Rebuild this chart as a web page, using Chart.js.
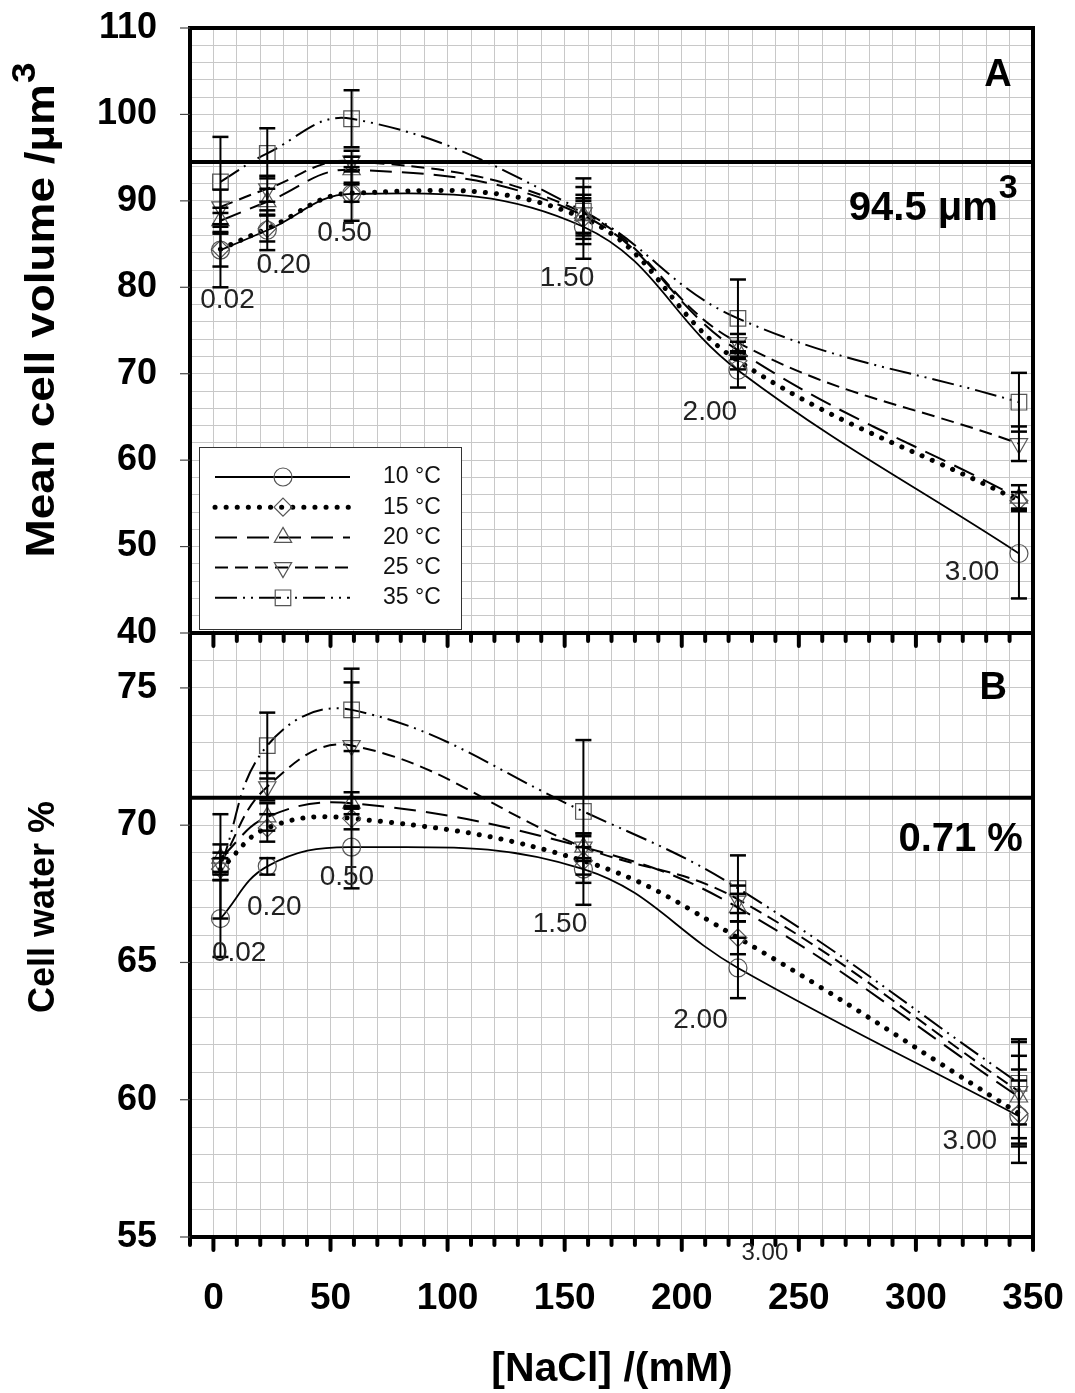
<!DOCTYPE html>
<html>
<head>
<meta charset="utf-8">
<title>Cell volume and cell water vs NaCl</title>
<script src="https://cdn.jsdelivr.net/npm/chart.js@4.4.1/dist/chart.umd.min.js"></script>
<style>
  html, body { margin: 0; padding: 0; background: #fff; }
  #page { position: relative; width: 1075px; height: 1393px; overflow: hidden; background: #fff; }
  #panelA { position: absolute; left: 0; top: 0; z-index: 2; }
  #panelB { position: absolute; left: 0; top: 611px; z-index: 1; }
</style>
</head>
<body>
<div id="page">
  <canvas id="panelA" width="1075" height="660"></canvas>
  <canvas id="panelB" width="1075" height="782"></canvas>
</div>
<script>
const FONT = "'Liberation Sans', Arial, Helvetica, sans-serif";

// ----- Data -----
const nacl = [3, 23, 59, 158, 224, 344];               // [NaCl] mM
const temps = ['10 °C', '15 °C', '20 °C', '25 °C', '35 °C'];
const concLabels = ['0.02', '0.20', '0.50', '1.50', '2.00', '3.00'];

// A: mean cell volume (µm³) per temperature, with ± error
const vol10 = [84.3, 86.6, 90.8, 87.0, 70.4, 49.2];
const vol15 = [84.4, 86.8, 90.9, 88.0, 71.5, 55.3];
const vol20 = [87.7, 89.9, 93.6, 88.3, 72.7, 55.6];
const vol25 = [89.3, 91.4, 94.6, 88.6, 73.6, 61.9];
const vol35 = [92.2, 95.5, 99.5, 88.8, 76.4, 66.7];
const volErr10 = [4.3, 2.3, 3.1, 3.7, 2.0, 5.2];
const volErr15 = [2.0, 1.5, 1.0, 2.0, 1.0, 1.0];
const volErr20 = [1.5, 1.5, 1.5, 2.0, 1.0, 1.5];
const volErr25 = [2.0, 1.5, 1.2, 3.0, 1.0, 2.0];
const volErr35 = [5.2, 2.9, 3.3, 3.8, 4.5, 3.4];

// B: cell water (%) per temperature, with ± error
const wat10 = [66.6, 68.5, 69.2, 68.4, 64.8, 59.4];
const wat15 = [68.4, 69.9, 70.25, 68.7, 65.9, 59.5];
const wat20 = [68.8, 70.3, 70.8, 69.2, 67.0, 60.1];
const wat25 = [68.6, 71.4, 72.9, 69.2, 67.3, 60.3];
const wat35 = [68.5, 72.9, 74.2, 70.5, 67.7, 60.6];
const watErr10 = [1.4, 0.3, 1.5, 1.3, 1.1, 1.7];
const watErr15 = [0.4, 0.5, 0.4, 0.5, 0.6, 1.2];
const watErr20 = [0.5, 0.5, 0.4, 0.4, 0.5, 1.5];
const watErr25 = [0.4, 0.5, 2.3, 0.5, 0.5, 1.9];
const watErr35 = [1.9, 1.2, 1.5, 2.6, 1.2, 1.5];

// tick labels
const volTickLabels = [40, 50, 60, 70, 80, 90, 100, 110];
const watTickLabels = [55, 60, 65, 70, 75];
const naclTickLabels = [0, 50, 100, 150, 200, 250, 300, 350];

// reference levels
const volRef = 94.5;
const watRef = 71;

// NaCl % labels next to the points (data units, text centre)
const volLabelX = [6, 30, 56, 151, 212, 324];
const volLabelY = [78.5, 82.5, 86.2, 81.0, 65.5, 47.0];
const watLabelX = [11, 26, 57, 148, 208, 323];
const watLabelY = [65.35, 67.0, 68.1, 66.4, 62.9, 58.5];

// ----- Styles -----
const seriesStyle = [
  { dash: [],                  width: 1.8, cap: 'butt',  point: 'circle',   r: 9,  rot: 0 },
  { dash: [0.1, 11],           width: 5,   cap: 'round', point: 'rectRot',  r: 9,  rot: 0 },
  { dash: [22, 10],            width: 2,   cap: 'butt',  point: 'triangle', r: 10, rot: 0 },
  { dash: [13, 7],             width: 2,   cap: 'butt',  point: 'triangle', r: 10, rot: 180 },
  { dash: [22, 6, 2, 6, 2, 6], width: 2,   cap: 'butt',  point: 'rect',     r: 11, rot: 0 }
];

function buildDatasets(series, errors) {
  return series.map((vals, i) => {
    const s = seriesStyle[i];
    return {
      label: temps[i],
      data: nacl.map((x, j) => ({ x, y: vals[j] })),
      errors: errors[i],
      borderColor: '#000',
      borderWidth: s.width,
      borderDash: s.dash,
      borderCapStyle: s.cap,
      tension: 0.4,
      fill: false,
      pointStyle: s.point,
      pointRadius: s.r,
      pointRotation: s.rot,
      pointBorderColor: '#555',
      pointBorderWidth: 1.2,
      pointBackgroundColor: 'rgba(0,0,0,0)'
    };
  });
}

function seg(ctx, x1, y1, x2, y2) {
  ctx.beginPath(); ctx.moveTo(x1, y1); ctx.lineTo(x2, y2); ctx.stroke();
}

function drawMarker(ctx, s, x, y) {
  ctx.save();
  ctx.setLineDash([]);
  ctx.strokeStyle = '#555';
  ctx.fillStyle = 'rgba(0,0,0,0)';
  ctx.lineWidth = 1.2;
  if (Chart.helpers && Chart.helpers.drawPoint) {
    Chart.helpers.drawPoint(ctx, { pointStyle: s.point, radius: s.r, rotation: s.rot, borderWidth: 1.2 }, x, y);
  }
  ctx.restore();
}

function panelPlugin(o) {
  return {
    id: 'panelExtras',
    afterDatasetsDraw(chart) {
      const ctx = chart.ctx, xs = chart.scales.x, ys = chart.scales.y, a = chart.chartArea;
      ctx.save();
      ctx.setLineDash([]);
      ctx.strokeStyle = '#000';

      // error bars
      chart.data.datasets.forEach((ds, di) => {
        const meta = chart.getDatasetMeta(di);
        meta.data.forEach((pt, i) => {
          const v = ds.data[i].y, e = ds.errors[i];
          const yt = ys.getPixelForValue(v + e), yb = ys.getPixelForValue(v - e);
          ctx.lineWidth = 2;
          seg(ctx, pt.x, yt, pt.x, yb);
          ctx.lineWidth = 2.5;
          seg(ctx, pt.x - 8, yt, pt.x + 8, yt);
          seg(ctx, pt.x - 8, yb, pt.x + 8, yb);
        });
      });

      // reference level
      ctx.lineWidth = 4;
      const yr = ys.getPixelForValue(o.ref);
      seg(ctx, a.left, yr, a.right, yr);

      // frame: top (panel A only) and right
      if (o.topBorder) seg(ctx, a.left - 2, a.top, a.right + 2, a.top);
      seg(ctx, a.right, a.top, a.right, a.bottom + 2);

      // x tick marks below the axis
      ctx.lineCap = 'round';
      ctx.lineWidth = 4;
      for (let v = -10; v <= 350; v += 10) {
        const px = xs.getPixelForValue(v);
        const len = v % 50 === 0 ? 13 : 8;
        seg(ctx, px, a.bottom + 2, px, a.bottom + len);
      }
      ctx.lineCap = 'butt';

      // y tick marks left of the axis
      ctx.strokeStyle = '#444';
      ctx.lineWidth = 1.2;
      o.tickLabels.forEach(v => {
        const py = ys.getPixelForValue(v);
        seg(ctx, a.left - 10, py, a.left, py);
      });
      ctx.strokeStyle = '#000';

      // NaCl % labels
      ctx.fillStyle = '#222';
      ctx.font = '28px ' + FONT;
      ctx.textAlign = 'center';
      ctx.textBaseline = 'middle';
      concLabels.forEach((t, i) => {
        ctx.fillText(t, xs.getPixelForValue(o.labelX[i]), ys.getPixelForValue(o.labelY[i]));
      });
      if (o.extraLabel) {
        ctx.font = '24px ' + FONT;
        ctx.fillText(o.extraLabel.text, xs.getPixelForValue(o.extraLabel.x), ys.getPixelForValue(o.extraLabel.y));
      }

      // panel letter and reference annotation
      ctx.fillStyle = '#000';
      ctx.font = 'bold 38px ' + FONT;
      ctx.fillText(o.letter, xs.getPixelForValue(o.letterX), ys.getPixelForValue(o.letterY));
      ctx.textAlign = 'right';
      const rx = xs.getPixelForValue(o.noteX), ry = ys.getPixelForValue(o.noteY);
      if (o.noteSup) {
        ctx.font = 'bold 34px ' + FONT;
        const sw = ctx.measureText(o.noteSup).width;
        ctx.fillText(o.noteSup, rx, ry - 20);
        ctx.font = 'bold 40px ' + FONT;
        ctx.fillText(o.note, rx - sw - 1, ry);
      } else {
        ctx.font = 'bold 40px ' + FONT;
        ctx.fillText(o.note, rx, ry);
      }

      // legend (panel A)
      if (o.legend) {
        const lx = a.left + 9, ly = a.bottom - 186, lw = 262, lh = 182;
        ctx.fillStyle = '#fff';
        ctx.fillRect(lx, ly, lw, lh);
        ctx.strokeStyle = '#333';
        ctx.lineWidth = 1;
        ctx.strokeRect(lx + 0.5, ly + 0.5, lw, lh);
        temps.forEach((t, i) => {
          const s = seriesStyle[i];
          const ry2 = ly + 30 + i * 30.2;
          ctx.save();
          ctx.strokeStyle = '#000';
          ctx.lineWidth = s.width;
          ctx.lineCap = s.cap;
          ctx.setLineDash(s.dash);
          seg(ctx, lx + 16, ry2, lx + 151, ry2);
          ctx.restore();
          drawMarker(ctx, s, lx + 84, ry2);
          ctx.fillStyle = '#111';
          ctx.font = '23px ' + FONT;
          ctx.textAlign = 'left';
          ctx.textBaseline = 'middle';
          ctx.fillText(t, lx + 184, ry2);
        });
      }
      ctx.restore();
    },
    afterDraw(chart) {
      const ctx = chart.ctx;
      ctx.save();
      ctx.fillStyle = '#000';
      // rotated y title, stretched to the reference length
      ctx.translate(o.titleX, o.titleY);
      ctx.rotate(-Math.PI / 2);
      ctx.textBaseline = 'alphabetic';
      ctx.textAlign = 'left';
      const mainFont = 'bold ' + o.titleSize + 'px ' + FONT;
      const supFont = 'bold ' + Math.round(o.titleSize * 0.8) + 'px ' + FONT;
      ctx.font = mainFont;
      const w1 = ctx.measureText(o.yTitle).width;
      let w2 = 0;
      if (o.yTitleSup) {
        ctx.font = supFont;
        w2 = ctx.measureText(o.yTitleSup).width + 1;
      }
      const sx = o.titleLen ? o.titleLen / (w1 + w2) : 1;
      ctx.scale(sx, 1);
      const x0 = -(w1 + w2) / 2;
      ctx.font = mainFont;
      ctx.fillText(o.yTitle, x0, 14);
      if (o.yTitleSup) {
        ctx.font = supFont;
        ctx.fillText(o.yTitleSup, x0 + w1 + 1, -5);
      }
      ctx.restore();

      if (o.xTitle) {
        ctx.save();
        ctx.fillStyle = '#000';
        ctx.font = 'bold 41px ' + FONT;
        ctx.textAlign = 'center';
        ctx.textBaseline = 'middle';
        ctx.fillText(o.xTitle, o.xTitleX, o.xTitleY);
        ctx.restore();
      }
    }
  };
}

function makePanel(id, o) {
  return new Chart(document.getElementById(id), {
    type: 'line',
    data: { datasets: buildDatasets(o.series, o.errors) },
    options: {
      responsive: false,
      animation: false,
      devicePixelRatio: 1,
      layout: { padding: { top: o.padTop, right: 42, left: 0, bottom: 0 } },
      plugins: { legend: { display: false }, tooltip: { enabled: false } },
      scales: {
        x: {
          type: 'linear',
          min: -10,
          max: 350,
          afterFit: s => { s.height = o.xHeight; },
          ticks: {
            stepSize: 10, autoSkip: false, maxRotation: 0, minRotation: 0,
            display: o.xLabels, padding: 0, color: '#000',
            font: { family: FONT, size: 37, weight: 'bold' },
            callback: v => naclTickLabels.includes(v) ? String(v) : ''
          },
          grid: { color: '#c8c8c8', lineWidth: 1, drawTicks: true, tickLength: 40, tickColor: 'rgba(0,0,0,0)' },
          border: { color: '#000', width: 4 }
        },
        y: {
          type: 'linear',
          min: o.min,
          max: o.max,
          afterFit: s => { s.width = 190; },
          ticks: {
            stepSize: o.step, autoSkip: false, padding: 0, color: '#000',
            font: { family: FONT, size: 36, weight: 'bold' },
            callback: v => o.tickLabels.includes(v) ? String(v) : ''
          },
          grid: { color: '#c8c8c8', lineWidth: 1, drawTicks: true, tickLength: 33, tickColor: 'rgba(0,0,0,0)' },
          border: { color: '#000', width: 4 }
        }
      }
    },
    plugins: [panelPlugin(o)]
  });
}

// ----- Init -----
makePanel('panelA', {
  series: [vol10, vol15, vol20, vol25, vol35],
  errors: [volErr10, volErr15, volErr20, volErr25, volErr35],
  min: 40, max: 110, step: 2, tickLabels: volTickLabels,
  padTop: 28, xHeight: 27, xLabels: false, topBorder: true,
  ref: volRef,
  labelX: volLabelX, labelY: volLabelY,
  letter: 'A', letterX: 335, letterY: 104.5,
  note: '94.5 \u03BCm', noteSup: '3', noteX: 343.5, noteY: 89.1,
  legend: true,
  yTitle: 'Mean cell volume /\u00B5m', yTitleSup: '3', titleSize: 41, titleLen: 495,
  titleX: 40, titleY: 310
});

makePanel('panelB', {
  series: [wat10, wat15, wat20, wat25, wat35],
  errors: [watErr10, watErr15, watErr20, watErr25, watErr35],
  min: 55, max: 77, step: 1, tickLabels: watTickLabels,
  padTop: 22, xHeight: 156, xLabels: true, topBorder: false,
  ref: watRef,
  labelX: watLabelX, labelY: watLabelY,
  extraLabel: { text: '3.00', x: 235.5, y: 54.4 },
  letter: 'B', letterX: 333, letterY: 74.96,
  note: '0.71 %', noteX: 345.7, noteY: 69.47,
  legend: false,
  yTitle: 'Cell water %', titleSize: 36, titleLen: 0,
  titleX: 40, titleY: 907 - 611,
  xTitle: '[NaCl] /(mM)', xTitleX: 612, xTitleY: 1370 - 611
});
</script>
</body>
</html>
